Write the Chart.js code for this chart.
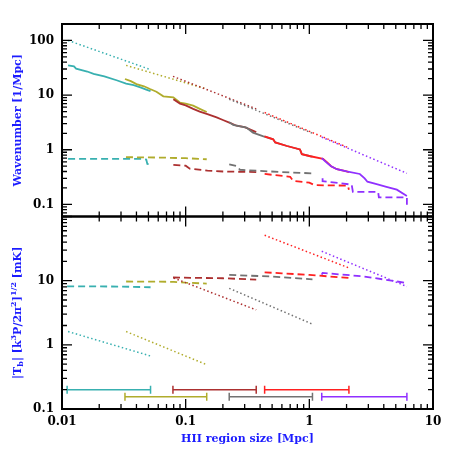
<!DOCTYPE html>
<html>
<head>
<meta charset="utf-8">
<script src="https://cdn.jsdelivr.net/npm/chart.js@4"></script>
<style>
  html, body { margin: 0; padding: 0; background: #fff; }
  canvas { display: block; }
</style>
</head>
<body>
<canvas id="chart" width="458" height="458"></canvas>
<script>
// --- data: one entry per HII region size bin ---
const binColors = ['#38b0b0', '#b0ac2c', '#ac3030', '#727272', '#ff2020', '#9030ff'];

// size range of each bin (bars in the lower panel)
const rangeLo = [0.011, 0.0323, 0.0789, 0.225, 0.435, 1.26];
const rangeHi = [0.052, 0.148, 0.372, 1.06, 2.09, 6.15];
const rangeY = [0.2, 0.155, 0.2, 0.155, 0.2, 0.155];

// upper panel, solid: wavenumber
const kSolidX = [
    [0.0112, 0.0125, 0.013, 0.016, 0.018, 0.022, 0.028, 0.033, 0.038, 0.043, 0.048, 0.052],
    [0.0323, 0.036, 0.040, 0.046, 0.0515, 0.058, 0.066, 0.0795, 0.0898, 0.1, 0.115, 0.13, 0.148],
    [0.0795, 0.09, 0.1, 0.115, 0.13, 0.15, 0.178, 0.2, 0.228, 0.258, 0.3, 0.372],
    [0.225, 0.242, 0.27, 0.31, 0.35, 0.42, 0.51, 0.53, 0.66, 0.84, 0.87, 1.02, 1.06],
    [0.435, 0.51, 0.53, 0.66, 0.84, 0.87, 1.02, 1.29, 1.38, 1.5, 1.67, 2.0, 2.09],
    [1.26, 1.38, 1.5, 1.67, 2.0, 2.56, 2.8, 2.95, 3.5, 4.2, 5.1, 6.15]
];
const kSolidY = [
    [35, 33.5, 30.5, 27, 24.5, 22, 18.5, 16.2, 15.2, 13.8, 12.6, 11.8],
    [19.7, 18, 15.9, 14.5, 12.9, 11.5, 9.5, 9.1, 7.3, 7.0, 6.4, 5.6, 4.9],
    [8.4, 7.0, 6.5, 5.6, 5.0, 4.5, 3.9, 3.5, 3.1, 2.75, 2.6, 2.1],
    [3.2, 2.85, 2.7, 2.55, 2.06, 1.78, 1.55, 1.36, 1.17, 1.01, 0.83, 0.76, 0.75],
    [1.75, 1.55, 1.36, 1.17, 1.01, 0.83, 0.76, 0.68, 0.6, 0.5, 0.44, 0.40, 0.39],
    [0.70, 0.58, 0.5, 0.44, 0.40, 0.36, 0.30, 0.26, 0.235, 0.21, 0.186, 0.142]
];

// upper panel, dashed
const kDashX = [
    [0.0112, 0.045, 0.048, 0.049, 0.052],
    [0.0329, 0.06, 0.1, 0.148],
    [0.0795, 0.1, 0.108, 0.15, 0.2, 0.372],
    [0.225, 0.26, 0.275, 0.4, 0.6, 1.06],
    [0.435, 0.7, 0.74, 1.0, 1.1, 2.05, 2.09],
    [1.28, 1.28, 2.2, 2.25, 3.6, 3.65, 6.15, 6.15]
];
const kDashY = [
    [0.68, 0.68, 0.66, 0.55, 0.54],
    [0.73, 0.72, 0.70, 0.67],
    [0.53, 0.51, 0.45, 0.415, 0.40, 0.39],
    [0.54, 0.5, 0.43, 0.41, 0.39, 0.37],
    [0.36, 0.32, 0.27, 0.25, 0.225, 0.22, 0.185],
    [0.30, 0.265, 0.23, 0.17, 0.17, 0.134, 0.134, 0.098]
];

// upper panel, dotted
const kDotX = [[0.0112, 0.052], [0.033, 0.148], [0.079, 0.372], [0.225, 1.06], [0.435, 2.09], [1.26, 6.15]];
const kDotY = [[100, 29.2], [35, 12.9], [22, 5.6], [8.4, 2.0], [4.8, 1.08], [1.7, 0.37]];

// lower panel, dashed
const tDashX = [
    [0.011, 0.03, 0.052],
    [0.033, 0.08, 0.1, 0.148],
    [0.079, 0.2, 0.372],
    [0.225, 0.5, 1.06],
    [0.435, 0.6, 1.0, 2.09],
    [1.26, 1.28, 2.7, 6.15]
];
const tDashY = [
    [8.15, 8.1, 7.9],
    [9.7, 9.6, 9.3, 9.0],
    [11.2, 10.9, 10.4],
    [12.3, 11.6, 10.5],
    [13.5, 13.0, 12.3, 11.0],
    [12.4, 13.2, 11.7, 9.2]
];

// lower panel, dotted
const tDotX = [[0.0112, 0.052], [0.033, 0.148], [0.08, 0.372], [0.225, 1.06], [0.435, 2.09], [1.26, 6.15]];
const tDotY = [[1.61, 0.67], [1.61, 0.49], [11, 3.5], [7.6, 2.1], [51, 15.8], [28.7, 8.1]];

// --- build datasets ---
const FONT = "'DejaVu Serif', serif";
const BLUE = '#1c1cff';

function pts(xs, ys) {
    return xs.map((x, i) => ({ x: x, y: ys[i] }));
}

function line(xs, ys, color, axis, dash, width) {
    return {
        data: pts(xs, ys),
        yAxisID: axis,
        borderColor: color,
        borderWidth: width,
        borderDash: dash,
        pointRadius: 0,
        showLine: true,
        fill: false,
        tension: 0
    };
}

const datasets = [];
binColors.forEach((c, i) => {
    datasets.push(line(kDashX[i], kDashY[i], c, 'yTop', [7, 4], 1.8));
    datasets.push(line(kSolidX[i], kSolidY[i], c, 'yTop', [], 1.8));
    datasets.push(line(kDotX[i], kDotY[i], c, 'yTop', [1.5, 2.5], 1.5));
    datasets.push(line(tDashX[i], tDashY[i], c, 'yBot', [7, 4], 1.8));
    datasets.push(line(tDotX[i], tDotY[i], c, 'yBot', [1.5, 2.5], 1.5));
    // range bar with end caps
    const bar = line([rangeLo[i], rangeHi[i]], [rangeY[i], rangeY[i]], c, 'yBot', [], 1.5);
    bar.pointStyle = 'line';
    bar.rotation = 90;
    bar.pointRadius = 4;
    bar.pointBorderWidth = 1.5;
    bar.pointBorderColor = c;
    datasets.push(bar);
});
// Chart.js paints dataset 0 last; larger bins must sit on top
datasets.reverse();

function isDecade(v) {
    const l = Math.log10(v);
    return Math.abs(l - Math.round(l)) < 1e-6;
}

const tickFont = { family: FONT, weight: 'bold', size: 12 };

function yAxis(min, max, hideTop) {
    return {
        type: 'logarithmic',
        position: 'left',
        stack: 'panels',
        stackWeight: 1,
        min: min,
        max: max,
        grid: { display: false, drawTicks: false },
        border: { display: false },
        ticks: {
            autoSkip: false,
            padding: 8,
            color: '#000',
            font: tickFont,
            callback: (v) => (isDecade(v) && !(hideTop && v >= max)) ? String(v) : ''
        },
        afterFit: (s) => { s.width = 62; }
    };
}

// frame, inward ticks on all sides, axis titles
const framePlugin = {
    id: 'frame',
    afterDraw(chart) {
        const ctx = chart.ctx;
        const xs = chart.scales.x;
        const left = chart.chartArea.left, right = chart.chartArea.right;
        ctx.save();
        ctx.strokeStyle = '#000';
        [chart.scales.yTop, chart.scales.yBot].forEach(ys => {
            ctx.lineWidth = 1.3;
            ctx.beginPath();
            for (let d = Math.floor(Math.log10(ys.min)); d <= Math.ceil(Math.log10(ys.max)); d++) {
                for (let m = 1; m <= 9; m++) {
                    const v = m * Math.pow(10, d);
                    if (v < ys.min || v > ys.max) continue;
                    const p = ys.getPixelForValue(v);
                    const len = m === 1 ? 10 : 5;
                    ctx.moveTo(left, p); ctx.lineTo(left + len, p);
                    ctx.moveTo(right, p); ctx.lineTo(right - len, p);
                }
            }
            for (let d = -2; d <= 1; d++) {
                for (let m = 1; m <= 9; m++) {
                    const v = m * Math.pow(10, d);
                    if (v < xs.min || v > xs.max) continue;
                    const p = xs.getPixelForValue(v);
                    const len = m === 1 ? 10 : 5;
                    ctx.moveTo(p, ys.top); ctx.lineTo(p, ys.top + len);
                    ctx.moveTo(p, ys.bottom); ctx.lineTo(p, ys.bottom - len);
                }
            }
            ctx.stroke();
            ctx.lineWidth = 2;
            ctx.strokeRect(left, ys.top, right - left, ys.bottom - ys.top);
        });

        // titles
        ctx.fillStyle = BLUE;
        ctx.textAlign = 'center';
        ctx.textBaseline = 'middle';
        ctx.font = "bold 11px " + FONT;
        ctx.fillText('HII region size [Mpc]', (left + right) / 2, 439);

        const yt = chart.scales.yTop, yb = chart.scales.yBot;
        ctx.save();
        ctx.translate(18, (yt.top + yt.bottom) / 2);
        ctx.rotate(-Math.PI / 2);
        ctx.fillText('Wavenumber [1/Mpc]', 0, 0);
        ctx.restore();

        // |T_b| [k^3 P/2pi^2]^(1/2) [mK] with sub/superscripts
        const parts = [
            ['|T', 0, 11], ['b', 3, 8], ['| [k', 0, 11], ['3', -4, 8],
            ['P/2\u03c0', 0, 11], ['2', -4, 8], [']', 0, 11], ['1/2', -4, 8], [' [mK]', 0, 11]
        ];
        let total = 0;
        parts.forEach(p => { ctx.font = 'bold ' + p[2] + 'px ' + FONT; total += ctx.measureText(p[0]).width; });
        ctx.save();
        ctx.translate(18, (yb.top + yb.bottom) / 2);
        ctx.rotate(-Math.PI / 2);
        ctx.textAlign = 'left';
        let x = -total / 2;
        parts.forEach(p => {
            ctx.font = 'bold ' + p[2] + 'px ' + FONT;
            ctx.fillText(p[0], x, p[1]);
            x += ctx.measureText(p[0]).width;
        });
        ctx.restore();
        ctx.restore();
    }
};

new Chart(document.getElementById('chart').getContext('2d'), {
    type: 'scatter',
    data: { datasets: datasets },
    options: {
        responsive: false,
        animation: false,
        devicePixelRatio: 1,
        layout: { padding: { top: 24, right: 25, left: 0, bottom: 0 } },
        plugins: { legend: { display: false }, tooltip: { enabled: false } },
        scales: {
            x: {
                type: 'logarithmic',
                position: 'bottom',
                min: 0.01,
                max: 10,
                grid: { display: false, drawTicks: false },
                border: { display: false },
                ticks: {
                    autoSkip: false,
                    maxRotation: 0,
                    padding: 6,
                    color: '#000',
                    font: tickFont,
                    callback: (v) => isDecade(v) ? String(v) : ''
                },
                afterFit: (s) => { s.height = 49; }
            },
            // stacked panels: the axis listed first ends up at the bottom
            yBot: yAxis(0.1, 100, true),
            yTop: yAxis(0.06, 200, false)
        }
    },
    plugins: [framePlugin]
});
</script>
</body>
</html>
